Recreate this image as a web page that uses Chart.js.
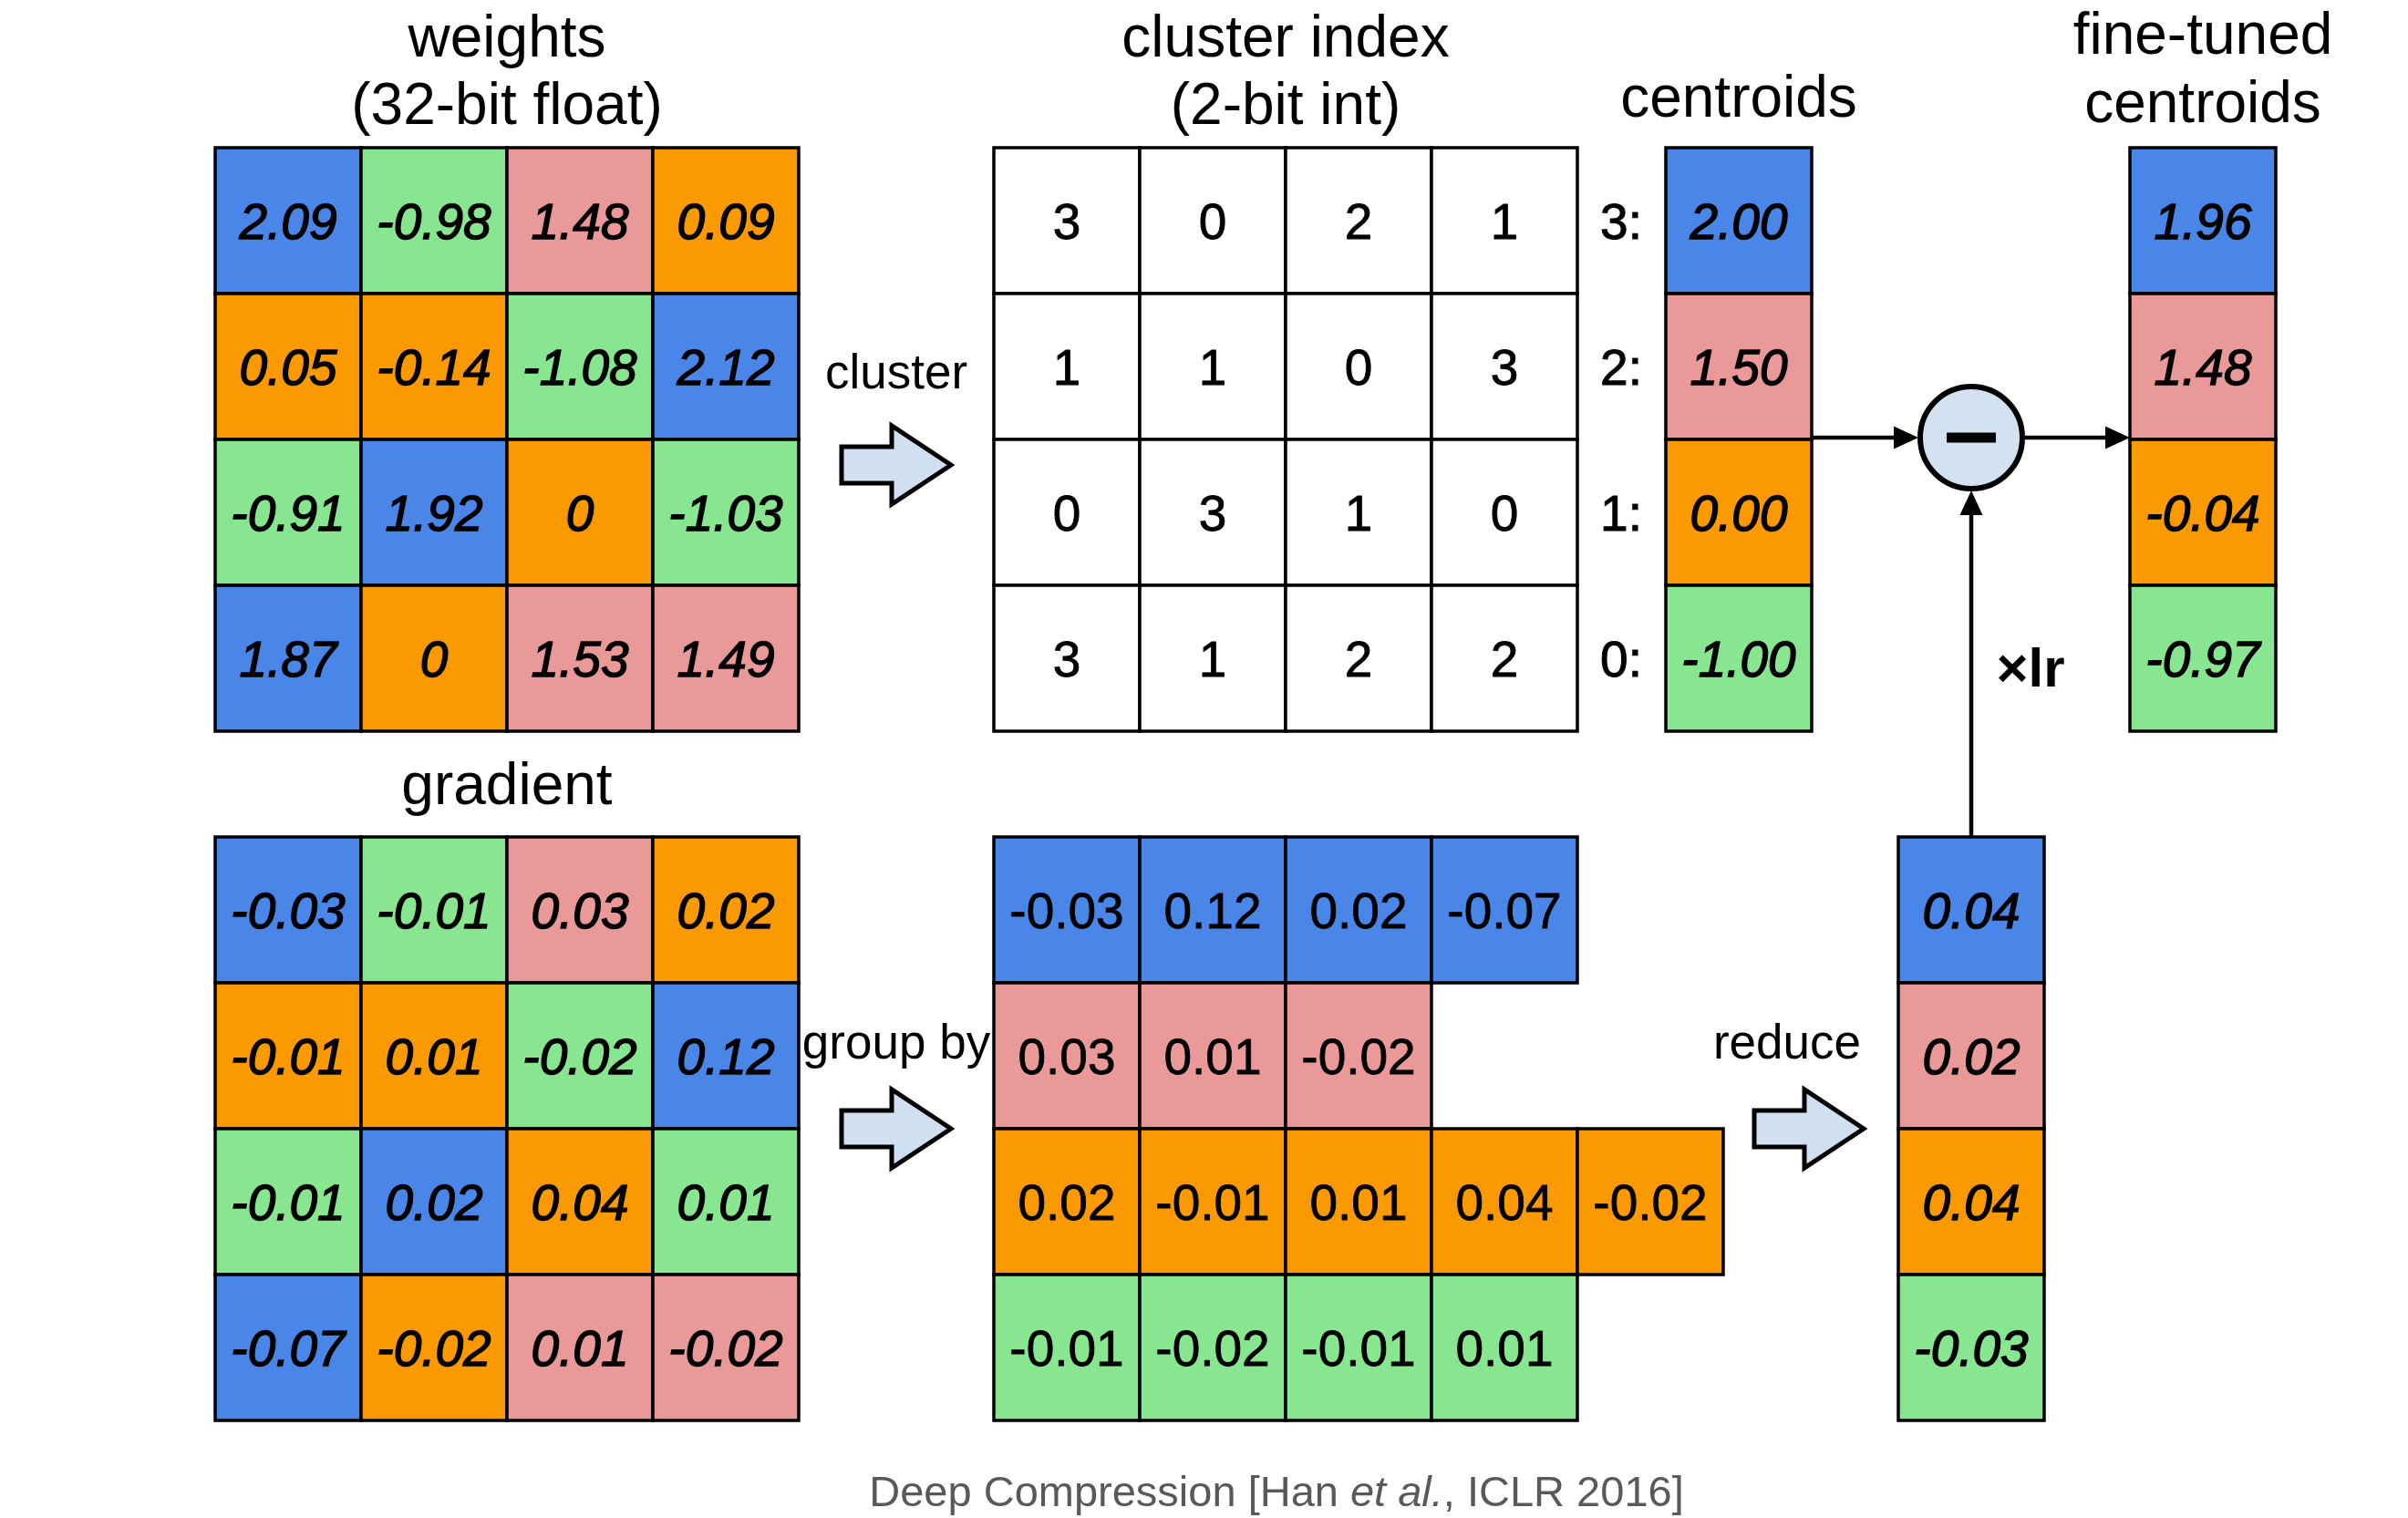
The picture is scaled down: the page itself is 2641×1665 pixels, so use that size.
<!DOCTYPE html>
<html><head><meta charset="utf-8">
<script src="https://cdn.jsdelivr.net/npm/chart.js@4.4.1/dist/chart.umd.min.js"></script>
<style>html,body{margin:0;padding:0;background:#fff;}canvas{display:block;}</style>
</head><body>
<canvas id="c" width="2641" height="1665"></canvas>
<script>
// ---------------- data ----------------
const weights = [
  ["2.09","-0.98","1.48","0.09"],
  ["0.05","-0.14","-1.08","2.12"],
  ["-0.91","1.92","0","-1.03"],
  ["1.87","0","1.53","1.49"]
];
const clusterIndex = [
  [3,0,2,1],
  [1,1,0,3],
  [0,3,1,0],
  [3,1,2,2]
];
const centroidIds = [3,2,1,0];
const centroids = ["2.00","1.50","0.00","-1.00"];
const gradient = [
  ["-0.03","-0.01","0.03","0.02"],
  ["-0.01","0.01","-0.02","0.12"],
  ["-0.01","0.02","0.04","0.01"],
  ["-0.07","-0.02","0.01","-0.02"]
];
const groupedBlue   = ["-0.03","0.12","0.02","-0.07"];
const groupedPink   = ["0.03","0.01","-0.02"];
const groupedOrange = ["0.02","-0.01","0.01","0.04","-0.02"];
const groupedGreen  = ["-0.01","-0.02","-0.01","0.01"];
const reduced   = ["0.04","0.02","0.04","-0.03"];
const fineTuned = ["1.96","1.48","-0.04","-0.97"];
const titles = {
  weights: ["weights","(32-bit float)"],
  cluster: ["cluster index","(2-bit int)"],
  centroids: ["centroids"],
  fine: ["fine-tuned","centroids"],
  gradient: ["gradient"]
};
const caption = ["Deep Compression [Han ", "et al.", ", ICLR 2016]"];

// ---------------- layout / style ----------------
const W = 2641, H = 1665;
const CELL = 160;
const LAYOUT = {
  weights:   {x:236,  y:162},
  cluster:   {x:1090, y:162},
  centroids: {x:1827, y:162},
  fine:      {x:2336, y:162},
  gradient:  {x:236,  y:918},
  grouped:   {x:1090, y:918},
  reduced:   {x:2082, y:918}
};
const COLORS = {3:"#4a86e8", 2:"#ea9999", 1:"#fa9a00", 0:"#89e690"};
const FAM = '"Liberation Sans", Arial, Helvetica, sans-serif';
const NUM_SIZE = 55;
const TITLE_SIZE = 64;

function gridPoints(rows, origin, colorOf) {
  const pts = [], bg = [];
  rows.forEach((row, r) => row.forEach((v, c) => {
    pts.push({x: origin.x + (c + 0.5) * CELL, y: origin.y + (r + 0.5) * CELL, label: String(v)});
    bg.push(colorOf(r, c));
  }));
  return {pts, bg};
}
function ds(g, italic) {
  return {
    data: g.pts, backgroundColor: g.bg, pointBackgroundColor: g.bg,
    pointBorderColor: "#000", pointBorderWidth: 3.5, pointStyle: "rect",
    pointRadius: ctx => {
      const s = ctx.chart.scales.x;
      return (s.getPixelForValue(CELL) - s.getPixelForValue(0)) * Math.SQRT1_2;
    },
    pointHoverRadius: 0,
    textItalic: italic
  };
}
const colOf = rows => (r, c) => COLORS[rows[r][c]];
const datasets = [
  ds(gridPoints(weights, LAYOUT.weights, colOf(clusterIndex)), true),
  ds(gridPoints(clusterIndex, LAYOUT.cluster, () => "#ffffff"), false),
  ds(gridPoints(centroids.map(v => [v]), LAYOUT.centroids, r => COLORS[centroidIds[r]]), true),
  ds(gridPoints(fineTuned.map(v => [v]), LAYOUT.fine, r => COLORS[centroidIds[r]]), true),
  ds(gridPoints(gradient, LAYOUT.gradient, colOf(clusterIndex)), true),
  ds(gridPoints([groupedBlue, groupedPink, groupedOrange, groupedGreen], LAYOUT.grouped, r => COLORS[centroidIds[r]]), false),
  ds(gridPoints(reduced.map(v => [v]), LAYOUT.reduced, r => COLORS[centroidIds[r]]), true)
];

const overlay = {
  id: "overlay",
  afterDatasetsDraw(chart) {
    const ctx = chart.ctx;
    const X = v => chart.scales.x.getPixelForValue(v);
    const Y = v => chart.scales.y.getPixelForValue(v);
    const text = (s, x, y, size, opts = {}) => {
      ctx.save();
      ctx.font = `${opts.italic ? "italic " : ""}${opts.bold ? "bold " : ""}${size}px ${FAM}`;
      ctx.fillStyle = opts.color || "#000";
      ctx.textAlign = opts.align || "center";
      ctx.textBaseline = "alphabetic";
      ctx.fillText(s, X(x), Y(y));
      if (opts.heavy) { ctx.strokeStyle = ctx.fillStyle; ctx.lineWidth = opts.heavy; ctx.strokeText(s, X(x), Y(y)); }
      ctx.restore();
    };
    // cell labels
    chart.data.datasets.forEach((d, i) => {
      const meta = chart.getDatasetMeta(i);
      meta.data.forEach((el, j) => {
        ctx.save();
        ctx.font = `${d.textItalic ? "italic " : ""}${NUM_SIZE}px ${FAM}`;
        ctx.fillStyle = "#000";
        ctx.strokeStyle = "#000";
        ctx.lineWidth = d.textItalic ? 1.4 : 0.8;
        ctx.textAlign = "center";
        ctx.textBaseline = "alphabetic";
        ctx.fillText(d.data[j].label, el.x, el.y + NUM_SIZE * 0.358);
        ctx.strokeText(d.data[j].label, el.x, el.y + NUM_SIZE * 0.358);
        ctx.restore();
      });
    });
    // titles
    const cx = (k, n) => LAYOUT[k].x + n * CELL / 2;
    text(titles.weights[0], cx("weights", 4), 62, TITLE_SIZE);
    text(titles.weights[1], cx("weights", 4), 136, TITLE_SIZE);
    text(titles.cluster[0], cx("cluster", 4), 62, TITLE_SIZE);
    text(titles.cluster[1], cx("cluster", 4), 136, TITLE_SIZE);
    text(titles.centroids[0], cx("centroids", 1), 128, TITLE_SIZE);
    text(titles.fine[0], cx("fine", 1), 59, TITLE_SIZE);
    text(titles.fine[1], cx("fine", 1), 134, TITLE_SIZE);
    text(titles.gradient[0], cx("gradient", 4), 882, TITLE_SIZE);
    // centroid index labels
    centroidIds.forEach((id, r) => {
      text(id + ":", LAYOUT.centroids.x - 49, LAYOUT.centroids.y + (r + 0.5) * CELL + NUM_SIZE * 0.358, NUM_SIZE, {heavy: 1});
    });
    // side labels
    text("cluster", 983, 426, 53);
    text("group by", 983, 1161, 53);
    text("reduce", 1960, 1161, 53);
    text("\u00d7lr", 2227, 753, 60, {bold: true});
    // block arrows
    const block = (x0, cy) => {
      const xh = x0 + 55, xt = x0 + 120, sh = 20, hh = 43;
      ctx.save();
      ctx.beginPath();
      ctx.moveTo(X(x0), Y(cy - sh)); ctx.lineTo(X(xh), Y(cy - sh)); ctx.lineTo(X(xh), Y(cy - hh));
      ctx.lineTo(X(xt), Y(cy)); ctx.lineTo(X(xh), Y(cy + hh)); ctx.lineTo(X(xh), Y(cy + sh));
      ctx.lineTo(X(x0), Y(cy + sh)); ctx.closePath();
      ctx.fillStyle = "#d0e0f0"; ctx.fill();
      ctx.lineWidth = 5; ctx.lineJoin = "miter"; ctx.strokeStyle = "#000"; ctx.stroke();
      ctx.restore();
    };
    block(923, 510);
    block(923, 1238);
    block(1924, 1238);
    // circle with minus
    const ccx = LAYOUT.reduced.x + CELL / 2, ccy = LAYOUT.centroids.y + 2 * CELL - 2, R = 56;
    ctx.save();
    ctx.beginPath(); ctx.arc(X(ccx), Y(ccy), R, 0, Math.PI * 2);
    ctx.fillStyle = "#d3e2f1"; ctx.fill();
    ctx.lineWidth = 6; ctx.strokeStyle = "#000"; ctx.stroke();
    ctx.fillStyle = "#000";
    ctx.fillRect(X(ccx) - 27, Y(ccy) - 5.5, 54, 11);
    ctx.restore();
    // line arrows
    const arrow = (x1, y1, x2, y2) => {
      const ax = X(x2), ay = Y(y2), bx = X(x1), by = Y(y1);
      const ang = Math.atan2(ay - by, ax - bx), L = 27, hw = 12.5;
      ctx.save();
      ctx.strokeStyle = "#000"; ctx.lineWidth = 4.5;
      ctx.beginPath(); ctx.moveTo(bx, by);
      ctx.lineTo(ax - Math.cos(ang) * L * 0.8, ay - Math.sin(ang) * L * 0.8); ctx.stroke();
      ctx.beginPath();
      ctx.moveTo(ax, ay);
      ctx.lineTo(ax - Math.cos(ang) * L + Math.sin(ang) * hw, ay - Math.sin(ang) * L - Math.cos(ang) * hw);
      ctx.lineTo(ax - Math.cos(ang) * L - Math.sin(ang) * hw, ay - Math.sin(ang) * L + Math.cos(ang) * hw);
      ctx.closePath(); ctx.fillStyle = "#000"; ctx.fill();
      ctx.restore();
    };
    arrow(LAYOUT.centroids.x + CELL, ccy, ccx - R - 2, ccy);
    arrow(ccx + R + 2, ccy, LAYOUT.fine.x, ccy);
    arrow(ccx, LAYOUT.reduced.y, ccx, ccy + R + 2);
    // caption
    ctx.save();
    const cs = 47;
    const fonts = [`${cs}px ${FAM}`, `italic ${cs}px ${FAM}`, `${cs}px ${FAM}`];
    const widths = caption.map((s, i) => { ctx.font = fonts[i]; return ctx.measureText(s).width; });
    let x = X(1400) - widths.reduce((a, b) => a + b, 0) / 2;
    ctx.fillStyle = "#595959"; ctx.textBaseline = "alphabetic"; ctx.textAlign = "left";
    caption.forEach((s, i) => { ctx.font = fonts[i]; ctx.fillText(s, x, Y(1652)); x += widths[i]; });
    ctx.restore();
  }
};

new Chart(document.getElementById("c"), {
  type: "scatter",
  data: {datasets},
  options: {
    responsive: false, animation: false, devicePixelRatio: 1, events: [],
    layout: {padding: 0},
    plugins: {legend: {display: false}, tooltip: {enabled: false}},
    scales: {
      x: {type: "linear", min: 0, max: W, display: false},
      y: {type: "linear", min: 0, max: H, reverse: true, display: false}
    }
  },
  plugins: [overlay]
});
</script>
</body></html>
